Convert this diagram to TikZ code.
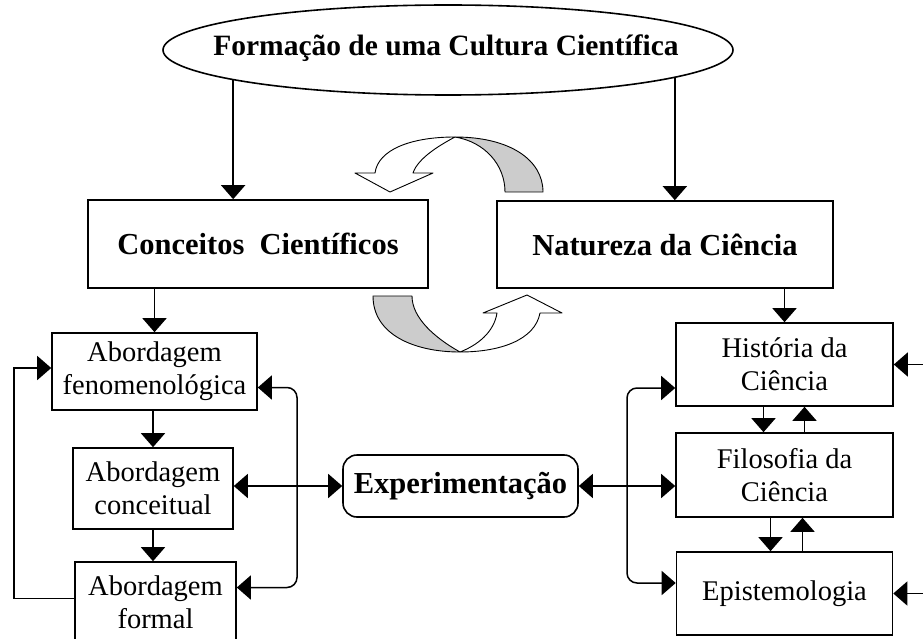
\documentclass[tikz,border=0pt]{standalone}
\usepackage{fontspec}
\setmainfont{Liberation Serif}
\usetikzlibrary{arrows.meta,shapes.geometric}
\definecolor{loopgray}{gray}{0.8}
\newcommand{\plainsize}{\fontsize{28.5}{33}\selectfont}
\newcommand{\boldsize}{\fontsize{30.5}{33}\selectfont\bfseries}
\newcommand{\titlesize}{\fontsize{29.5}{33}\selectfont\bfseries}

\begin{document}
\begin{tikzpicture}[x=1pt,y=-1pt,line width=1.5pt,
    onearrow/.style={-{Triangle[length=14pt,width=24pt]}},
    twoarrows/.style={{Triangle[length=14pt,width=24pt]}-{Triangle[length=14pt,width=24pt]}},
    bracketline/.style={twoarrows,rounded corners=10pt},
    loopshape/.style={draw,line width=0.9pt,line join=round}]
  \useasboundingbox (0,0) rectangle (923,639);
  \begin{scope}[every node/.style={draw,line width=1.6pt,inner sep=0pt,align=center,font=\plainsize}]
    \node[ellipse,minimum width=570pt,minimum height=90pt] (cult) at (448,50) {};
    \node[draw=none,font=\titlesize] (cultname) at (446,48) {Formação de uma Cultura Científica};
    \node[minimum width=340pt,minimum height=88pt,font=\boldsize] (conc) at (258,244) {Conceitos~~Científicos};
    \node[minimum width=336pt,minimum height=87pt,font=\boldsize] (nat) at (665,244.5) {Natureza da Ciência};
    \node[minimum width=205pt,minimum height=77pt] (fenom) at (154.5,371.5) {Abordagem\\fenomenológica};
    \node[minimum width=160pt,minimum height=81pt] (concl) at (153,488.5) {Abordagem\\conceitual};
    \node[minimum width=161pt,minimum height=81pt] (form) at (155.5,602.5) {Abordagem\\formal};
    \node[rounded corners=14pt,minimum width=235pt,minimum height=62pt,font=\boldsize] (expt) at (460.5,486) {Experimentação};
    \node[minimum width=217pt,minimum height=83pt] (hist) at (784.5,364.5) {História da\\Ciência};
    \node[minimum width=217pt,minimum height=84pt] (filo) at (784.5,475) {Filosofia da\\Ciência};
    \node[minimum width=216pt,minimum height=83pt] (epist) at (784.5,593.5) {Epistemologia};
  \end{scope}
  \begin{scope}
    \draw[onearrow] (cult.188) -- (cult.188 |- conc.north);
    \draw[onearrow] (cult.353) -- (cult.353 |- nat.north);
    \draw[onearrow] (fenom.north |- conc.south) -- (fenom.north);
    \draw[onearrow] (hist.north |- nat.south) -- (hist.north);
    \draw[onearrow] (concl.north |- fenom.south) -- (concl.north);
    \draw[onearrow] (concl.south) -- (concl.south |- form.north);
    \draw[onearrow] ([yshift=4pt]form.west) -- ++(-60,0) |- ([yshift=3.5pt]fenom.west);
    \coordinate (lbar) at (297,0);
    \coordinate (fenR) at ([yshift=-16pt]fenom.east);
    \coordinate (forR) at ([yshift=15pt]form.east);
    \draw[bracketline] (fenR) -- (fenR -| lbar) -- (forR -| lbar) -- (forR);
    \draw[twoarrows] (concl.east |- expt.west) -- (expt.west);
    \draw[twoarrows] (expt.east) -- (expt.east -| filo.west);
    \coordinate (rbar) at (627,0);
    \coordinate (hisL) at ([yshift=-23.5pt]hist.west);
    \coordinate (epiL) at ([yshift=10.5pt]epist.west);
    \draw[bracketline] (hisL) -- (hisL -| rbar) -- (epiL -| rbar) -- (epiL);
    \draw[onearrow] ([xshift=-21pt]hist.south) -- ([xshift=-21pt]filo.north);
    \draw[onearrow] ([xshift=20pt]filo.north) -- ([xshift=20pt]hist.south);
    \draw[onearrow] ([xshift=-14pt]filo.south) -- ([xshift=-14pt]epist.north);
    \draw[onearrow] ([xshift=18pt]epist.north) -- ([xshift=18pt]filo.south);
    \coordinate (redge) at (940,0);
    \draw[onearrow] (hist.east -| redge) -- (hist.east);
    \draw[onearrow] (epist.east -| redge) -- (epist.east);
  \end{scope}
  % turning arrows between the two top boxes
  \filldraw[loopshape,fill=white] (390,192) -- (355,173) -- (375,173) .. controls (378,150) and (410,137) .. (455,137) .. controls (440,145) and (418,158) .. (413,173) -- (433,173) -- cycle;
  \filldraw[loopshape,fill=loopgray] (455,137) .. controls (510,137) and (543,160) .. (543,192) -- (505,192) .. controls (505,165) and (485,142) .. (455,137) -- cycle;
  \filldraw[loopshape,fill=loopgray] (373,296) -- (412,296) .. controls (412,318) and (435,338) .. (460,352) .. controls (415,352) and (373,335) .. (373,296) -- cycle;
  \filldraw[loopshape,fill=white] (460,352) .. controls (500,352) and (535,340) .. (540,313) -- (562,313) -- (527,295) -- (483,313) -- (497,313) .. controls (494,332) and (478,345) .. (460,352) -- cycle;
\end{tikzpicture}
\end{document}
